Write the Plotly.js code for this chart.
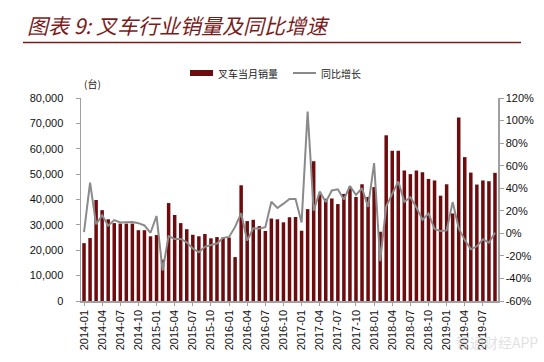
<!DOCTYPE html>
<html>
<head>
<meta charset="utf-8">
<script src="https://cdn.plot.ly/plotly-3.0.1.min.js"></script>
<style>html,body{margin:0;padding:0;background:#fff;}#chart{width:544px;height:362px;}</style>
</head>
<body>
<div id="chart"></div>
<script>
const months = [
  '2014-01','2014-02','2014-03','2014-04','2014-05','2014-06','2014-07','2014-08','2014-09','2014-10','2014-11','2014-12',
  '2015-01','2015-02','2015-03','2015-04','2015-05','2015-06','2015-07','2015-08','2015-09','2015-10','2015-11','2015-12',
  '2016-01','2016-02','2016-03','2016-04','2016-05','2016-06','2016-07','2016-08','2016-09','2016-10','2016-11','2016-12',
  '2017-01','2017-02','2017-03','2017-04','2017-05','2017-06','2017-07','2017-08','2017-09','2017-10','2017-11','2017-12',
  '2018-01','2018-02','2018-03','2018-04','2018-05','2018-06','2018-07','2018-08','2018-09','2018-10','2018-11','2018-12',
  '2019-01','2019-02','2019-03','2019-04','2019-05','2019-06','2019-07','2019-08','2019-09'
];
const sales = [
  22800, 24800, 39800, 35800, 32200, 30700, 30500, 30500, 30500, 27900, 27900, 25500,
  26000, 16300, 38600, 33900, 30700, 28300, 26100, 25500, 26400, 24700, 25200, 25000,
  25000, 17300, 45600, 31500, 32000, 29500, 27600, 32500, 32200, 31000, 33000, 33100,
  27700, 36200, 55100, 42000, 40300, 40400, 38200, 42200, 45000, 41000, 46000, 41000,
  44900, 27300, 65300, 59200, 59200, 51400, 50000, 51400, 50700, 48100, 47500, 41500,
  46000, 34500, 72300, 56700, 50600, 45900, 47500, 47200, 50500
];
const yoy = [
  1, 45, 8, 16, 6.7, 11.7, 9.6, 10, 10, 9, 7, 0.5,
  15.4, -33, -2.5, -5, -5, -8, -13.5, -16.8, -12, -10.3, -9, -4,
  -3.2, 5.7, 17.8, -6.5, 4.4, 4.2, 5.5, 28, 22.5, 26.3, 30.5, 30.5,
  9.7, 108, 20, 37, 27.7, 38, 39, 30, 42, 34, 40, 23.4,
  62.3, -24.6, 24, 35, 46, 28, 32, 23, 12, 17.6, 3.8, 2,
  2.6, 27.7, 4.5, -6, -14, -11.5, -5.3, -8.3, 0.6
];
const tickLabels = ['2014-01','2014-04','2014-07','2014-10','2015-01','2015-04','2015-07','2015-10',
  '2016-01','2016-04','2016-07','2016-10','2017-01','2017-04','2017-07','2017-10',
  '2018-01','2018-04','2018-07','2018-10','2019-01','2019-04','2019-07'];
const leftTicks = [0,10000,20000,30000,40000,50000,60000,70000,80000];
const rightTicks = [-60,-40,-20,0,20,40,60,80,100,120];
const rightTickText = ['-60%','-40%','-20%','0%','20%','40%','60%','80%','100%','120%'];

const barName = '叉车当月销量';
const lineName = '同比增长';
const titleText = '图表 9: 叉车行业销量及同比增速';

const barColor = '#6d0c0e';
const lineColor = '#8a8a8a';
const axisColor = '#a0a0a0';
const numFont = {family: 'Liberation Sans, Arial, sans-serif', size: 11, color: '#111'};
const cjk = 'Noto Sans CJK SC, sans-serif';

const traces = [
  {type: 'bar', x: months, y: sales, name: barName, marker: {color: barColor}, yaxis: 'y', hoverinfo: 'skip'},
  {type: 'scatter', mode: 'lines', x: months, y: yoy, name: lineName, yaxis: 'y2',
   line: {color: lineColor, width: 2}, hoverinfo: 'skip'}
];

// plot area: x 81..498, y 98..301
const W = 417, H = 203;
const px = v => (v - 81) / W;
const py = v => (301 - v) / H;

const layout = {
  width: 544, height: 362,
  margin: {l: 81, r: 46, t: 98, b: 61, pad: 0},
  paper_bgcolor: '#fff', plot_bgcolor: '#fff',
  showlegend: false,
  bargap: 0.42,
  title: {text: titleText, xref: 'container', yref: 'container', x: 27/544, xanchor: 'left',
          y: 1 - 27/362, yanchor: 'middle',
          font: {family: cjk, size: 21, color: '#7a1c1c', style: 'italic'}},
  xaxis: {type: 'category', categoryorder: 'array', categoryarray: months,
          tickmode: 'array', tickvals: tickLabels, ticktext: tickLabels, tickangle: -90,
          tickfont: {family: 'Liberation Sans, Arial, sans-serif', size: 11, color: '#111'},
          showline: true, linecolor: axisColor, linewidth: 1.5, ticks: 'outside', ticklen: 3,
          tickcolor: axisColor, showgrid: false, zeroline: false, fixedrange: true},
  yaxis: {range: [0, 80000], tickmode: 'array', tickvals: leftTicks, tickformat: ',d',
          tickfont: numFont, showline: true, linecolor: axisColor, linewidth: 1.5,
          ticks: 'outside', ticklen: 4, tickcolor: axisColor, showgrid: false, zeroline: false,
          ticklabelstandoff: 10},
  yaxis2: {range: [-60, 120], overlaying: 'y', side: 'right', tickmode: 'array',
           tickvals: rightTicks, ticktext: rightTickText, tickfont: numFont, showline: true,
           linecolor: axisColor, linewidth: 1.5, ticks: 'outside', ticklen: 4, tickcolor: axisColor,
           showgrid: false, zeroline: false},
  shapes: [
    {type: 'line', xref: 'paper', yref: 'paper', x0: px(23), x1: px(521), y0: py(42.5), y1: py(42.5),
     line: {color: '#7a1c1c', width: 1.5}},
    {type: 'rect', xref: 'paper', yref: 'paper', x0: px(190), x1: px(213), y0: py(70), y1: py(76),
     fillcolor: barColor, line: {width: 0}},
    {type: 'line', xref: 'paper', yref: 'paper', x0: px(293), x1: px(316), y0: py(73), y1: py(73),
     line: {color: lineColor, width: 2}}
  ],
  annotations: [
    {text: barName, xref: 'paper', yref: 'paper', x: px(216), y: py(73), xanchor: 'left', yanchor: 'middle',
     showarrow: false, font: {family: cjk, size: 10, color: '#222'}},
    {text: lineName, xref: 'paper', yref: 'paper', x: px(319), y: py(73), xanchor: 'left', yanchor: 'middle',
     showarrow: false, font: {family: cjk, size: 10, color: '#222'}},
    {text: '(台)', xref: 'paper', yref: 'paper', x: px(82), y: py(83), xanchor: 'left', yanchor: 'middle',
     showarrow: false, font: {family: cjk, size: 10, color: '#222'}},
    {text: '智通财经APP', xref: 'paper', yref: 'paper', x: px(540), y: py(342), xanchor: 'right', yanchor: 'middle',
     showarrow: false, font: {family: cjk, size: 14, color: 'rgba(200,200,200,0.55)'}}
  ]
};

Plotly.newPlot('chart', traces, layout, {staticPlot: true, displayModeBar: false});
</script>
</body>
</html>
